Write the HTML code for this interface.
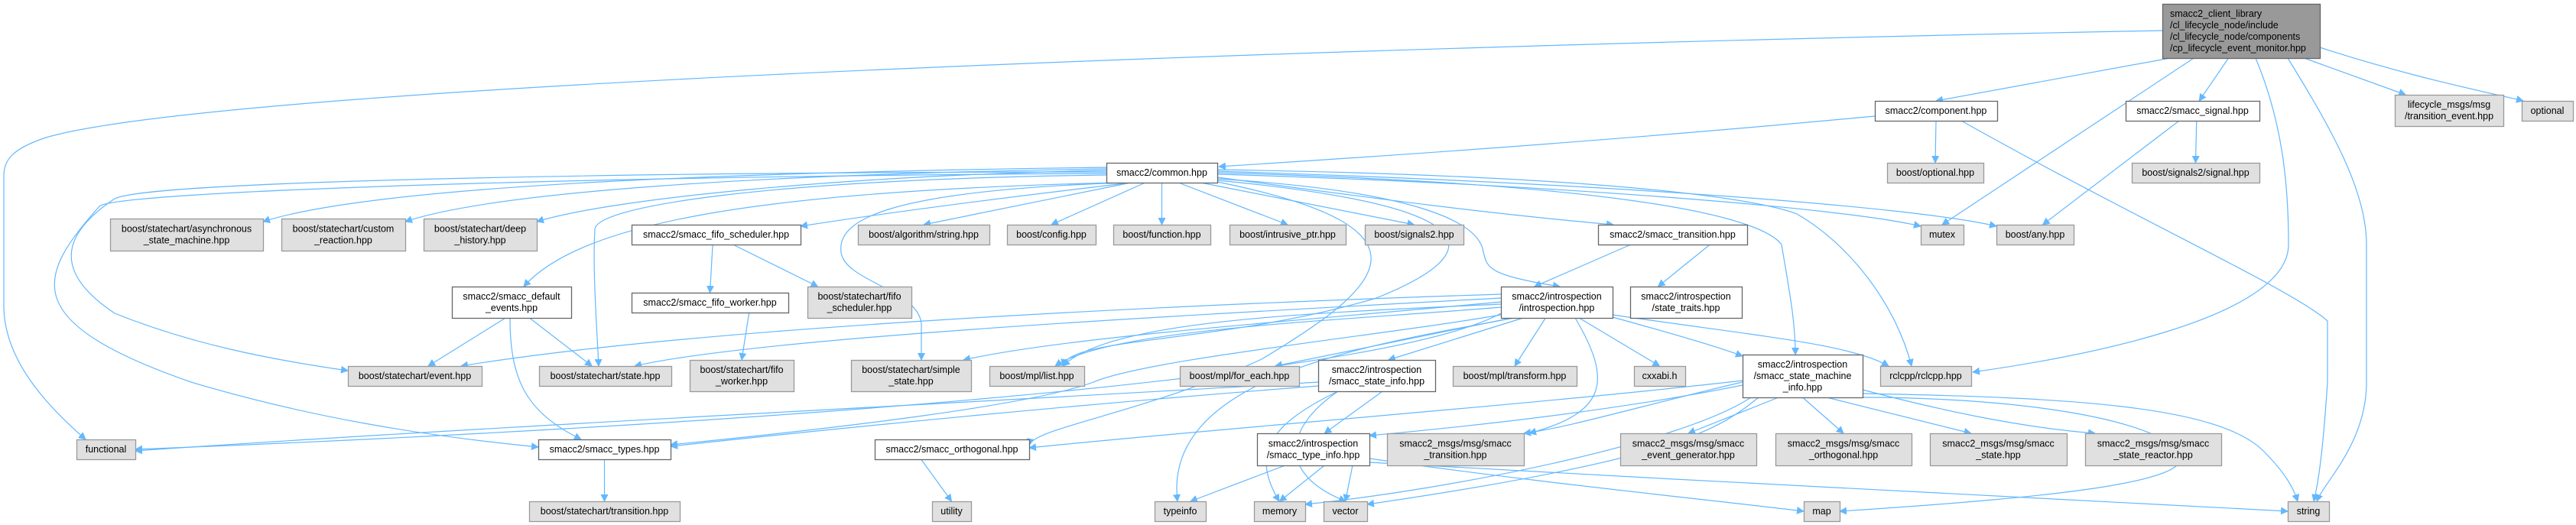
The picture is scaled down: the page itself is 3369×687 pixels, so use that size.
<!DOCTYPE html>
<html><head><meta charset="utf-8">
<style>
html,body{margin:0;padding:0;background:#fff;}
svg{display:block;}
text{font-family:"Liberation Sans",Arial,sans-serif;font-size:12.5px;fill:#000;}
</style></head>
<body>
<svg id="g" width="3369" height="687" viewBox="0 0 3369 687" xmlns="http://www.w3.org/2000/svg">
<defs>
<marker id="a" viewBox="0 0 10 10" refX="9" refY="5" markerWidth="10" markerHeight="10" markerUnits="userSpaceOnUse" orient="auto">
<path d="M0,0 L10,5 L0,10 z" fill="#63b8ff"/>
</marker>
</defs>
<g id="edges" fill="none" stroke="#63b8ff" stroke-width="1.2"></g>
<g id="nodes"></g>
</svg>
<script>
var N={
T:[2828,5,206,71,2,["smacc2_client_library","/cl_lifecycle_node/include","/cl_lifecycle_node/components","/cp_lifecycle_event_monitor.hpp"]],
component:[2452,132,160,26,0,["smacc2/component.hpp"]],
signal:[2780,132,175,26,0,["smacc2/smacc_signal.hpp"]],
lifecycle:[3132,124,142,41,1,["lifecycle_msgs/msg","/transition_event.hpp"]],
optional:[3298,132,67,26,1,["optional"]],
boptional:[2468,213,126,26,1,["boost/optional.hpp"]],
bsignal:[2788,213,167,26,1,["boost/signals2/signal.hpp"]],
common:[1447,213,145,26,0,["smacc2/common.hpp"]],
async:[144,286,200,42,1,["boost/statechart/asynchronous","_state_machine.hpp"]],
custom:[368,286,162,42,1,["boost/statechart/custom","_reaction.hpp"]],
deep:[554,286,148,42,1,["boost/statechart/deep","_history.hpp"]],
fsched:[826,294,221,26,0,["smacc2/smacc_fifo_scheduler.hpp"]],
bfsched:[1056,375,136,41,1,["boost/statechart/fifo","_scheduler.hpp"]],
algo:[1122,294,172,26,1,["boost/algorithm/string.hpp"]],
config:[1317,294,116,26,1,["boost/config.hpp"]],
func:[1456,294,127,26,1,["boost/function.hpp"]],
intr:[1608,294,152,26,1,["boost/intrusive_ptr.hpp"]],
sig2:[1785,294,129,26,1,["boost/signals2.hpp"]],
strans:[2090,294,195,26,0,["smacc2/smacc_transition.hpp"]],
mutex:[2512,294,56,26,1,["mutex"]],
any:[2611,294,101,26,1,["boost/any.hpp"]],
defev:[591,375,156,41,0,["smacc2/smacc_default","_events.hpp"]],
fworker:[826,383,205,26,0,["smacc2/smacc_fifo_worker.hpp"]],
intro:[1963,375,146,41,0,["smacc2/introspection","/introspection.hpp"]],
traits:[2132,375,146,41,0,["smacc2/introspection","/state_traits.hpp"]],
event:[455,479,175,26,1,["boost/statechart/event.hpp"]],
state:[705,479,173,26,1,["boost/statechart/state.hpp"]],
bfworker:[902,471,136,41,1,["boost/statechart/fifo","_worker.hpp"]],
simple:[1113,471,157,41,1,["boost/statechart/simple","_state.hpp"]],
mpl:[1294,479,124,26,1,["boost/mpl/list.hpp"]],
foreach:[1543,479,156,26,1,["boost/mpl/for_each.hpp"]],
sinfo:[1724,471,153,41,0,["smacc2/introspection","/smacc_state_info.hpp"]],
transform:[1900,479,162,26,1,["boost/mpl/transform.hpp"]],
cxxabi:[2137,479,67,26,1,["cxxabi.h"]],
sminfo:[2279,464,157,56,0,["smacc2/introspection","/smacc_state_machine","_info.hpp"]],
rclcpp:[2459,479,119,26,1,["rclcpp/rclcpp.hpp"]],
functional:[100,575,77,26,1,["functional"]],
types:[704,575,173,26,0,["smacc2/smacc_types.hpp"]],
orth:[1144,575,202,26,0,["smacc2/smacc_orthogonal.hpp"]],
tinfo:[1644,567,147,42,0,["smacc2/introspection","/smacc_type_info.hpp"]],
mtrans:[1814,567,179,42,1,["smacc2_msgs/msg/smacc","_transition.hpp"]],
mevgen:[2119,567,178,42,1,["smacc2_msgs/msg/smacc","_event_generator.hpp"]],
morth:[2322,567,178,42,1,["smacc2_msgs/msg/smacc","_orthogonal.hpp"]],
mstate:[2524,567,179,42,1,["smacc2_msgs/msg/smacc","_state.hpp"]],
mreact:[2727,567,178,42,1,["smacc2_msgs/msg/smacc","_state_reactor.hpp"]],
trans:[692,656,197,26,1,["boost/statechart/transition.hpp"]],
utility:[1219,656,51,26,1,["utility"]],
typeinfo:[1510,656,67,26,1,["typeinfo"]],
memory:[1640,656,67,26,1,["memory"]],
vector:[1731,656,57,26,1,["vector"]],
map:[2359,656,47,26,1,["map"]],
string:[2992,656,54,26,1,["string"]]
};
var NS="http://www.w3.org/2000/svg";
var ng=document.getElementById("nodes"),eg=document.getElementById("edges");
for(var k in N){var n=N[k];
 var r=document.createElementNS(NS,"rect");
 r.setAttribute("x",n[0]+0.5);r.setAttribute("y",n[1]+0.5);r.setAttribute("width",n[2]);r.setAttribute("height",n[3]);
 r.setAttribute("fill",n[4]==2?"#999999":(n[4]==1?"#e0e0e0":"#ffffff"));
 r.setAttribute("stroke",n[4]==1?"#999999":"#666666");r.setAttribute("stroke-width","1.3");
 ng.appendChild(r);
 var L=n[5],lh=15,y0=n[1]+n[3]/2-(L.length*lh)/2+11.5;
 for(var i=0;i<L.length;i++){var t=document.createElementNS(NS,"text");
  if(n[4]==2){t.setAttribute("x",n[0]+10);}
  else{t.setAttribute("x",n[0]+n[2]/2);t.setAttribute("text-anchor","middle");}
  t.setAttribute("y",y0+i*lh);t.textContent=L[i];ng.appendChild(t);}
}
function P(d){var p=document.createElementNS(NS,"path");p.setAttribute("d",d);p.setAttribute("marker-end","url(#a)");eg.appendChild(p);}
function S(s,t,sx,tx){var a=N[s],b=N[t];
 var x1=a[0]+a[2]*(sx==null?0.5:sx),y1=a[1]+a[3],x2=b[0]+b[2]*(tx==null?0.5:tx),y2=b[1];
 P("M"+x1+","+y1+" L"+x2+","+y2);}
P("M2828,40 C1800,60 300,110 60,180 C15,195 5,210 5,230 L5,400 C5,470 60,530 112,575");
S("T","component",0.05,0.5);
S("T","signal",0.42,0.55);
S("T","mutex",0.2,0.5);
S("T","lifecycle",0.9,0.1);
P("M3034,62 C3150,100 3250,120 3300,132");
P("M2950,76 C2985,160 2993,240 2993,320 C2993,420 2700,470 2580,487");
P("M2992,76 C3050,170 3095,250 3095,320 L3095,500 C3095,580 3040,630 3030,656");
P("M2452,152 C2100,185 1800,205 1594,218");
S("component","boptional");
P("M2565,158 C2800,290 3000,380 3044,420 L3044,500 C3040,560 3035,620 3026,656");
S("signal","bsignal",0.53,0.5);
S("signal","any",0.4,0.6);
P("M1447,219 C1000,225 500,240 344,290");
P("M1447,221 C1000,228 650,250 530,290");
P("M1447,223 C1100,230 800,260 702,290");
P("M1480,239 C1300,260 1150,280 1047,296");
S("common","algo",0.22,0.5);
S("common","config",0.35,0.5);
S("common","func",0.5,0.5);
S("common","intr",0.65,0.5);
S("common","sig2",0.85,0.5);
P("M1592,232 C1800,260 1950,280 2110,294");
P("M1592,228 C2000,240 2400,270 2512,296");
P("M1592,224 C2100,240 2500,270 2611,296");
P("M1592,222 C2100,230 2300,260 2350,280 C2420,320 2480,400 2500,479");
P("M1592,226 C2100,240 2300,280 2330,320 C2340,380 2348,420 2348,464");
P("M1592,234 C1850,250 1935,290 1940,330 C1945,350 1945,360 2040,375");
P("M1447,225 C900,225 200,235 150,260 C90,300 60,350 150,410 C250,450 350,470 455,485");
P("M1447,227 C800,230 150,250 130,270 C50,360 20,420 250,500 C400,545 550,570 704,585");
P("M1447,229 C1000,235 780,270 778,300 C775,350 780,420 783,479");
P("M1460,239 C1000,250 760,290 685,375");
P("M1470,239 C1150,250 1095,290 1100,330 C1105,370 1210,380 1205,430 L1205,471");
P("M1592,236 C1950,270 1950,330 1800,390 C1600,450 1400,440 1390,479");
P("M1592,238 C1900,300 1800,380 1650,470 C1500,540 1350,560 1346,583");
S("fsched","fworker",0.48,0.5);
S("fsched","bfsched",0.6,0.1);
S("fworker","bfworker",0.75,0.5);
S("defev","event",0.45,0.6);
S("defev","state",0.65,0.4);
P("M667,416 C667,500 690,540 760,575");
S("strans","intro",0.22,0.3);
S("strans","traits",0.75,0.25);
P("M1963,385 C1500,400 900,430 603,479");
P("M1963,390 C1600,410 1000,440 830,479");
P("M1963,412 C1800,440 1500,470 1430,500 C1350,530 1100,560 877,582");
P("M1963,410 C1800,500 900,560 177,588");
P("M1963,395 C1700,420 1400,440 1260,471");
P("M1963,398 C1700,410 1450,420 1390,479");
P("M1963,402 C1750,420 1450,430 1380,479");
S("intro","foreach",0.1,0.8);
S("intro","sinfo",0.2,0.6);
S("intro","transform",0.4,0.5);
S("intro","cxxabi",0.7,0.5);
P("M2109,415 C2200,440 2250,455 2279,466");
P("M2109,412 C2300,440 2420,450 2470,479");
P("M2060,416 C2110,500 2100,540 2000,567");
P("M1980,416 C1800,450 1520,490 1540,656");
P("M1724,505 C1400,530 1100,560 877,584");
P("M1724,500 C1400,520 600,560 177,590");
S("sinfo","tinfo",0.55,0.6);
P("M1750,512 C1650,560 1640,600 1673,656");
P("M1750,512 C1680,560 1670,620 1760,656");
P("M2279,498 C2000,530 1600,560 1346,586");
P("M2279,500 C2150,530 2050,560 1993,567");
P("M2279,504 C2100,540 1900,560 1791,570");
S("sminfo","mevgen",0.3,0.5);
S("sminfo","morth",0.5,0.5);
S("sminfo","mstate",0.7,0.3);
P("M2436,510 C2550,540 2650,560 2740,567");
P("M2436,520 C2600,520 2800,540 2850,590 C2880,630 2700,650 2406,669");
P("M2436,515 C2700,520 2900,530 2960,590 C2990,620 3000,640 3005,656");
P("M2300,520 C2250,560 2200,600 1788,660");
P("M2290,520 C2200,580 1900,640 1707,660");
S("tinfo","typeinfo",0.25,0.7);
S("tinfo","memory",0.6,0.5);
S("tinfo","vector",0.85,0.5);
P("M1791,600 C2000,630 2200,650 2359,669");
P("M1791,605 C2200,630 2700,650 2992,669");
S("types","trans");
S("orth","utility",0.3,0.5);
</script>
</body></html>
